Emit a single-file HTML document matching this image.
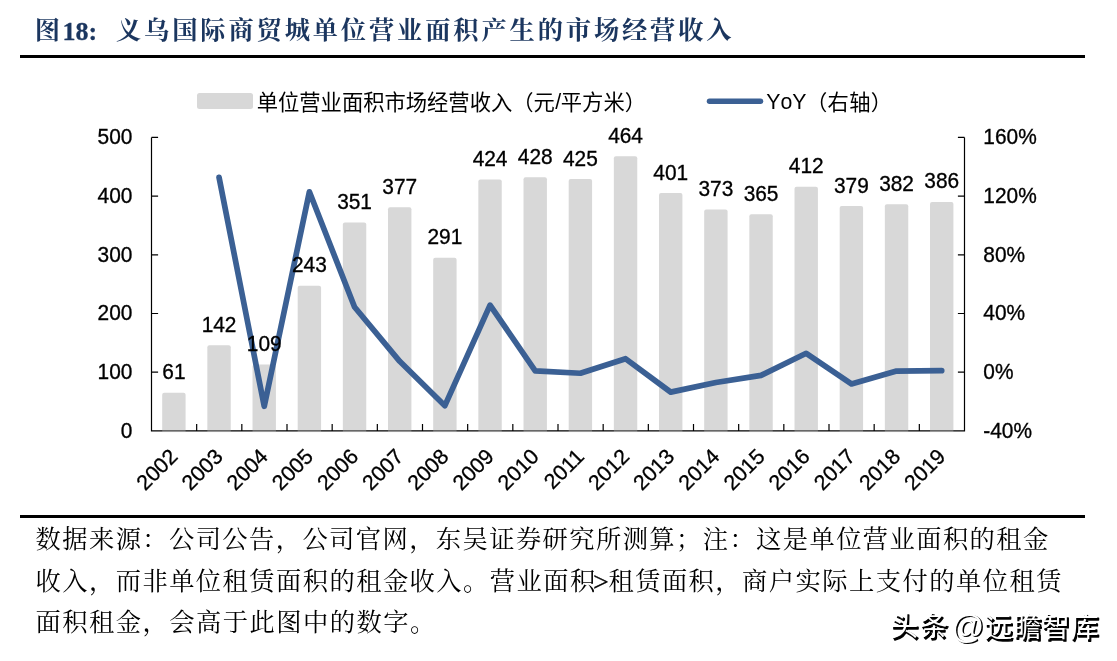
<!DOCTYPE html>
<html lang="zh"><head><meta charset="utf-8"><title>图18</title>
<style>
html,body{margin:0;padding:0;background:#fff;}
body{width:1117px;height:661px;overflow:hidden;font-family:"Liberation Sans","Noto Sans CJK SC",sans-serif;}
svg{display:block;will-change:transform;font-family:"Liberation Sans","Noto Sans CJK SC",sans-serif;}
</style></head><body>
<svg width="1117" height="661" viewBox="0 0 1117 661">
<rect width="1117" height="661" fill="#fff"/>
<text x="34.85" y="39.1" font-family="'Liberation Serif','Noto Serif CJK SC',serif" font-weight="bold" font-size="25.3" fill="#1b365f">图</text>
<text x="62.6" y="40.2" font-family="Liberation Serif" font-weight="bold" font-size="26" fill="#1b365f" stroke="#1b365f" stroke-width="0.3">18:</text>
<text x="115.95" y="39.1" font-family="'Liberation Serif','Noto Serif CJK SC',serif" font-weight="bold" font-size="25.3" fill="#1b365f" textLength="615.7" lengthAdjust="spacing">义乌国际商贸城单位营业面积产生的市场经营收入</text>
<rect x="20" y="55" width="1065" height="3" fill="#000"/>
<rect x="20" y="515" width="1065" height="3" fill="#000"/>
<!-- legend -->
<rect x="197" y="93" width="56" height="16" rx="2.5" fill="#d8d8d8"/>
<text x="256.68" y="109.6" font-family="'Liberation Sans','Noto Sans CJK SC',sans-serif" font-size="21.3" fill="#000" textLength="298.2" lengthAdjust="spacing">单位营业面积市场经营收入（元</text>
<text x="555.20" y="109.3" font-size="21.3" fill="#000">/</text>
<text x="560.80" y="109.6" font-family="'Liberation Sans','Noto Sans CJK SC',sans-serif" font-size="21.3" fill="#000" textLength="85.2" lengthAdjust="spacing">平方米）</text>
<line x1="709.5" y1="101.2" x2="760.5" y2="101.2" stroke="#3b6094" stroke-width="5.5" stroke-linecap="round"/>
<text x="766.3" y="109.3" font-size="21.3" fill="#000" style="font-kerning:none">YoY</text>
<text x="805.98" y="109.6" font-family="'Liberation Sans','Noto Sans CJK SC',sans-serif" font-size="21.3" fill="#000" textLength="86.2" lengthAdjust="spacing">（右轴）</text>
<!-- axes -->
<path d="M151.5 137.4V430.9H964.5V137.4M151.5 430.90h6.6M964.5 430.90h-6.6M151.5 372.20h6.6M964.5 372.20h-6.6M151.5 313.50h6.6M964.5 313.50h-6.6M151.5 254.80h6.6M964.5 254.80h-6.6M151.5 196.10h6.6M964.5 196.10h-6.6M151.5 137.40h6.6M964.5 137.40h-6.6M196.67 430.9v-6.9M241.83 430.9v-6.9M287.00 430.9v-6.9M332.17 430.9v-6.9M377.33 430.9v-6.9M422.50 430.9v-6.9M467.67 430.9v-6.9M512.83 430.9v-6.9M558.00 430.9v-6.9M603.17 430.9v-6.9M648.33 430.9v-6.9M693.50 430.9v-6.9M738.67 430.9v-6.9M783.83 430.9v-6.9M829.00 430.9v-6.9M874.17 430.9v-6.9M919.33 430.9v-6.9" fill="none" stroke="#000" stroke-width="1.2"/>
<!-- bars -->
<path d="M162.18 430.1V394.69q0-2 2-2h19.4q2 0 2 2V430.1z" fill="#d8d8d8"/>
<rect x="162.18" y="430.1" width="23.4" height="2.3" fill="#d8d8d8" fill-opacity="0.3"/>
<path d="M207.35 430.1V347.15q0-2 2-2h19.4q2 0 2 2V430.1z" fill="#d8d8d8"/>
<rect x="207.35" y="430.1" width="23.4" height="2.3" fill="#d8d8d8" fill-opacity="0.3"/>
<path d="M252.52 430.1V366.52q0-2 2-2h19.4q2 0 2 2V430.1z" fill="#d8d8d8"/>
<rect x="252.52" y="430.1" width="23.4" height="2.3" fill="#d8d8d8" fill-opacity="0.3"/>
<path d="M297.68 430.1V287.86q0-2 2-2h19.4q2 0 2 2V430.1z" fill="#d8d8d8"/>
<rect x="297.68" y="430.1" width="23.4" height="2.3" fill="#d8d8d8" fill-opacity="0.3"/>
<path d="M342.85 430.1V224.46q0-2 2-2h19.4q2 0 2 2V430.1z" fill="#d8d8d8"/>
<rect x="342.85" y="430.1" width="23.4" height="2.3" fill="#d8d8d8" fill-opacity="0.3"/>
<path d="M388.02 430.1V209.20q0-2 2-2h19.4q2 0 2 2V430.1z" fill="#d8d8d8"/>
<rect x="388.02" y="430.1" width="23.4" height="2.3" fill="#d8d8d8" fill-opacity="0.3"/>
<path d="M433.18 430.1V259.68q0-2 2-2h19.4q2 0 2 2V430.1z" fill="#d8d8d8"/>
<rect x="433.18" y="430.1" width="23.4" height="2.3" fill="#d8d8d8" fill-opacity="0.3"/>
<path d="M478.35 430.1V181.61q0-2 2-2h19.4q2 0 2 2V430.1z" fill="#d8d8d8"/>
<rect x="478.35" y="430.1" width="23.4" height="2.3" fill="#d8d8d8" fill-opacity="0.3"/>
<path d="M523.52 430.1V179.26q0-2 2-2h19.4q2 0 2 2V430.1z" fill="#d8d8d8"/>
<rect x="523.52" y="430.1" width="23.4" height="2.3" fill="#d8d8d8" fill-opacity="0.3"/>
<path d="M568.68 430.1V181.02q0-2 2-2h19.4q2 0 2 2V430.1z" fill="#d8d8d8"/>
<rect x="568.68" y="430.1" width="23.4" height="2.3" fill="#d8d8d8" fill-opacity="0.3"/>
<path d="M613.85 430.1V158.13q0-2 2-2h19.4q2 0 2 2V430.1z" fill="#d8d8d8"/>
<rect x="613.85" y="430.1" width="23.4" height="2.3" fill="#d8d8d8" fill-opacity="0.3"/>
<path d="M659.02 430.1V195.11q0-2 2-2h19.4q2 0 2 2V430.1z" fill="#d8d8d8"/>
<rect x="659.02" y="430.1" width="23.4" height="2.3" fill="#d8d8d8" fill-opacity="0.3"/>
<path d="M704.18 430.1V211.55q0-2 2-2h19.4q2 0 2 2V430.1z" fill="#d8d8d8"/>
<rect x="704.18" y="430.1" width="23.4" height="2.3" fill="#d8d8d8" fill-opacity="0.3"/>
<path d="M749.35 430.1V216.24q0-2 2-2h19.4q2 0 2 2V430.1z" fill="#d8d8d8"/>
<rect x="749.35" y="430.1" width="23.4" height="2.3" fill="#d8d8d8" fill-opacity="0.3"/>
<path d="M794.52 430.1V188.66q0-2 2-2h19.4q2 0 2 2V430.1z" fill="#d8d8d8"/>
<rect x="794.52" y="430.1" width="23.4" height="2.3" fill="#d8d8d8" fill-opacity="0.3"/>
<path d="M839.68 430.1V208.03q0-2 2-2h19.4q2 0 2 2V430.1z" fill="#d8d8d8"/>
<rect x="839.68" y="430.1" width="23.4" height="2.3" fill="#d8d8d8" fill-opacity="0.3"/>
<path d="M884.85 430.1V206.27q0-2 2-2h19.4q2 0 2 2V430.1z" fill="#d8d8d8"/>
<rect x="884.85" y="430.1" width="23.4" height="2.3" fill="#d8d8d8" fill-opacity="0.3"/>
<path d="M930.02 430.1V203.92q0-2 2-2h19.4q2 0 2 2V430.1z" fill="#d8d8d8"/>
<rect x="930.02" y="430.1" width="23.4" height="2.3" fill="#d8d8d8" fill-opacity="0.3"/>
<!-- line -->
<path d="M219.05 177.34L264.22 406.30L309.38 191.79L354.55 306.98L399.72 361.33L444.88 405.68L490.05 305.13L535.22 370.82L580.38 373.23L625.55 358.73L670.72 392.13L715.88 382.45L761.05 375.35L806.22 353.30L851.38 383.95L896.55 371.04L941.72 370.66" fill="none" stroke="#3b6094" stroke-width="5.7" stroke-linecap="round" stroke-linejoin="round"/>
<!-- labels (GDI-hinted Arial in the source is ~12% taller than nominal) -->
<g font-size="20.9" fill="#000" stroke="#000" stroke-width="0.32">
<text transform="translate(132.40 437.60) scale(1 1.055)" text-anchor="end">0</text>
<text transform="translate(983.30 437.60) scale(1 1.055)">-40%</text>
<text transform="translate(132.40 378.90) scale(1 1.055)" text-anchor="end">100</text>
<text transform="translate(983.30 378.90) scale(1 1.055)">0%</text>
<text transform="translate(132.40 320.20) scale(1 1.055)" text-anchor="end">200</text>
<text transform="translate(983.30 320.20) scale(1 1.055)">40%</text>
<text transform="translate(132.40 261.50) scale(1 1.055)" text-anchor="end">300</text>
<text transform="translate(983.30 261.50) scale(1 1.055)">80%</text>
<text transform="translate(132.40 202.80) scale(1 1.055)" text-anchor="end">400</text>
<text transform="translate(983.30 202.80) scale(1 1.055)">120%</text>
<text transform="translate(132.40 144.10) scale(1 1.055)" text-anchor="end">500</text>
<text transform="translate(983.30 144.10) scale(1 1.055)">160%</text>
<text transform="translate(173.88 379.19) scale(1 1.055)" text-anchor="middle">61</text>
<text transform="translate(219.05 331.65) scale(1 1.055)" text-anchor="middle">142</text>
<text transform="translate(264.22 351.02) scale(1 1.055)" text-anchor="middle">109</text>
<text transform="translate(309.38 272.36) scale(1 1.055)" text-anchor="middle">243</text>
<text transform="translate(354.55 208.96) scale(1 1.055)" text-anchor="middle">351</text>
<text transform="translate(399.72 193.70) scale(1 1.055)" text-anchor="middle">377</text>
<text transform="translate(444.88 244.18) scale(1 1.055)" text-anchor="middle">291</text>
<text transform="translate(490.05 166.11) scale(1 1.055)" text-anchor="middle">424</text>
<text transform="translate(535.22 163.76) scale(1 1.055)" text-anchor="middle">428</text>
<text transform="translate(580.38 165.52) scale(1 1.055)" text-anchor="middle">425</text>
<text transform="translate(625.55 142.63) scale(1 1.055)" text-anchor="middle">464</text>
<text transform="translate(670.72 179.61) scale(1 1.055)" text-anchor="middle">401</text>
<text transform="translate(715.88 196.05) scale(1 1.055)" text-anchor="middle">373</text>
<text transform="translate(761.05 200.74) scale(1 1.055)" text-anchor="middle">365</text>
<text transform="translate(806.22 173.16) scale(1 1.055)" text-anchor="middle">412</text>
<text transform="translate(851.38 192.53) scale(1 1.055)" text-anchor="middle">379</text>
<text transform="translate(896.55 190.77) scale(1 1.055)" text-anchor="middle">382</text>
<text transform="translate(941.72 188.42) scale(1 1.055)" text-anchor="middle">386</text>
</g>
<g font-size="21.4" fill="#000" stroke="#000" stroke-width="0.3" text-anchor="end">
<text transform="translate(178.88 457.80) rotate(-45)">2002</text>
<text transform="translate(224.05 457.80) rotate(-45)">2003</text>
<text transform="translate(269.22 457.80) rotate(-45)">2004</text>
<text transform="translate(314.38 457.80) rotate(-45)">2005</text>
<text transform="translate(359.55 457.80) rotate(-45)">2006</text>
<text transform="translate(404.72 457.80) rotate(-45)">2007</text>
<text transform="translate(449.88 457.80) rotate(-45)">2008</text>
<text transform="translate(495.05 457.80) rotate(-45)">2009</text>
<text transform="translate(540.22 457.80) rotate(-45)">2010</text>
<text transform="translate(585.38 457.80) rotate(-45)">2011</text>
<text transform="translate(630.55 457.80) rotate(-45)">2012</text>
<text transform="translate(675.72 457.80) rotate(-45)">2013</text>
<text transform="translate(720.88 457.80) rotate(-45)">2014</text>
<text transform="translate(766.05 457.80) rotate(-45)">2015</text>
<text transform="translate(811.22 457.80) rotate(-45)">2016</text>
<text transform="translate(856.38 457.80) rotate(-45)">2017</text>
<text transform="translate(901.55 457.80) rotate(-45)">2018</text>
<text transform="translate(946.72 457.80) rotate(-45)">2019</text>
</g>
<!-- footnote -->
<text x="35.57" y="548.0" font-family="'Liberation Serif','Noto Serif CJK SC',serif" font-size="25.3" fill="#000" textLength="1012.7" lengthAdjust="spacing">数据来源：公司公告，公司官网，东吴证券研究所测算；注：这是单位营业面积的租金</text>
<text x="35.57" y="589.8" font-family="'Liberation Serif','Noto Serif CJK SC',serif" font-size="25.3" fill="#000" textLength="559.65" lengthAdjust="spacing">收入，而非单位租赁面积的租金收入。营业面积</text>
<text x="592.95" y="590.60" font-family="Liberation Serif" font-size="28" fill="#000" stroke="#000" stroke-width="0.3">&gt;</text>
<text x="608.42" y="589.8" font-family="'Liberation Serif','Noto Serif CJK SC',serif" font-size="25.3" fill="#000" textLength="453.05" lengthAdjust="spacing">租赁面积，商户实际上支付的单位租赁</text>
<text x="35.57" y="631.4" font-family="'Liberation Serif','Noto Serif CJK SC',serif" font-size="25.3" fill="#000" textLength="399.75" lengthAdjust="spacing">面积租金，会高于此图中的数字。</text>
<!-- watermark: white text over dark offset shadow -->
<text x="892.24" y="637.65" font-family="'Liberation Sans','Noto Sans CJK SC',sans-serif" font-size="27.4" fill="#000" stroke="#000" stroke-width="1.3" stroke-linejoin="round" textLength="56.8" lengthAdjust="spacing">头条</text>
<text x="952.85" y="639.25" font-size="32.5" fill="#000" stroke="#000" stroke-width="0.046" stroke-linejoin="round">@</text>
<text x="986.26" y="638.55" font-family="'Liberation Sans','Noto Sans CJK SC',sans-serif" font-size="27.7" fill="#000" stroke="#000" stroke-width="1.3" stroke-linejoin="round" textLength="113.6" lengthAdjust="spacing">远瞻智库</text>
<text x="890.74" y="636.15" font-family="'Liberation Sans','Noto Sans CJK SC',sans-serif" font-size="27.4" fill="#fff" textLength="56.8" lengthAdjust="spacing">头条</text>
<text x="951.35" y="637.75" font-size="32.5" fill="#fff">@</text>
<text x="984.76" y="637.05" font-family="'Liberation Sans','Noto Sans CJK SC',sans-serif" font-size="27.7" fill="#fff" textLength="113.6" lengthAdjust="spacing">远瞻智库</text>
</svg>
</body></html>
